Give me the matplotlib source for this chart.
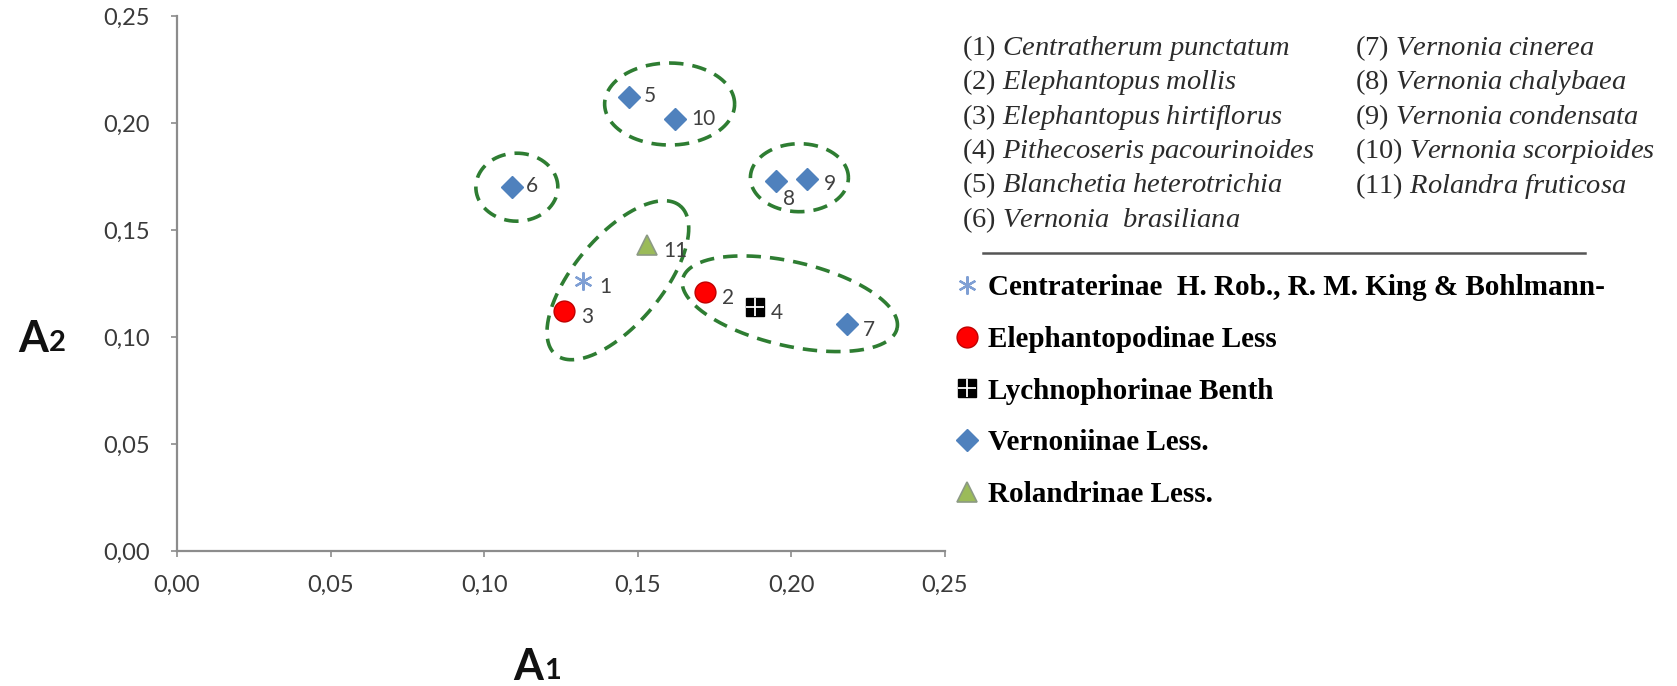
import matplotlib.pyplot as plt
from matplotlib.lines import Line2D
from matplotlib.legend_handler import HandlerTuple
from matplotlib.font_manager import FontProperties
from matplotlib.ticker import FuncFormatter
import numpy as np

plt.rcParams['mathtext.fontset'] = 'custom'
plt.rcParams['mathtext.rm'] = 'Liberation Serif'
plt.rcParams['mathtext.it'] = 'Liberation Serif:italic'

# species coordinates (A1, A2)
point_ids = [1, 2, 3, 4, 5, 6, 7, 8, 9, 10, 11]
a1 = [0.132, 0.172, 0.126, 0.188, 0.147, 0.109, 0.218, 0.195, 0.205, 0.162, 0.153]
a2 = [0.126, 0.121, 0.112, 0.114, 0.212, 0.170, 0.106, 0.173, 0.174, 0.202, 0.143]
subtribe = ['Centraterinae', 'Elephantopodinae', 'Elephantopodinae', 'Lychnophorinae',
            'Vernoniinae', 'Vernoniinae', 'Vernoniinae', 'Vernoniinae', 'Vernoniinae',
            'Vernoniinae', 'Rolandrinae']

species = ['Centratherum punctatum', 'Elephantopus mollis', 'Elephantopus hirtiflorus',
           'Pithecoseris pacourinoides', 'Blanchetia heterotrichia', 'Vernonia  brasiliana',
           'Vernonia cinerea', 'Vernonia chalybaea', 'Vernonia condensata',
           'Vernonia scorpioides', 'Rolandra fruticosa']

subtribes = ['Centraterinae', 'Elephantopodinae', 'Lychnophorinae', 'Vernoniinae', 'Rolandrinae']
subtribe_labels = ['Centraterinae  H. Rob., R. M. King & Bohlmann-', 'Elephantopodinae Less',
                   'Lychnophorinae Benth', 'Vernoniinae Less.', 'Rolandrinae Less.']

# clusters circled with dashed rings
clusters = [[5, 10], [6], [8, 9], [1, 3, 11], [2, 4, 7]]

xticks = [0.00, 0.05, 0.10, 0.15, 0.20, 0.25]
yticks = [0.00, 0.05, 0.10, 0.15, 0.20, 0.25]

# marker styles per subtribe
styles = {
    'Centraterinae': dict(marker=(6, 2, 0), ms=13, mfc='none', mec='#7f9fd4', mew=1.6),
    'Elephantopodinae': dict(marker='o', ms=15, mfc='#ff0000', mec='#c00000', mew=1.0),
    'Lychnophorinae': dict(marker='s', ms=13, mfc='#000000', mec='#000000', mew=1.0),
    'Vernoniinae': dict(marker='D', ms=11, mfc='#4f81bd', mec='#4f81bd', mew=1.0),
    'Rolandrinae': dict(marker='^', ms=14, mfc='#9bbb59', mec='#8c9a84', mew=1.2),
}
cross = dict(marker='+', ms=13, mec='white', mew=1.3)
# label offsets in points (dx, dy)
label_off = {8: (5, -13), 6: (10, 1), 5: (11, 1), 10: (12, 0)}
# ring shape: shift of centre from cluster mean in px, semi axes in px, angle in degrees
rings = [((18, 4), 65, 41, 0), ((5, 0), 41, 34, 0), ((8, 2), 49, 34, 0),
         ((20, -1), 97, 44, 50), ((21, 4), 110, 42, -13)]

W, H = 1677, 686
fig = plt.figure(figsize=(W / 100, H / 100), dpi=100)
ax = fig.add_axes([177 / W, 1 - 551 / H, 768 / W, 535 / H])
ax.set_xlim(0, 0.25)
ax.set_ylim(0, 0.25)

for st in subtribes:
    xs = [x for x, s in zip(a1, subtribe) if s == st]
    ys = [y for y, s in zip(a2, subtribe) if s == st]
    ax.plot(xs, ys, linestyle='none', zorder=3, **styles[st])
    if st == 'Lychnophorinae':
        ax.plot(xs, ys, linestyle='none', zorder=4, **cross)

for pid, x, y in zip(point_ids, a1, a2):
    dx, dy = label_off.get(pid, (12, -4))
    ax.annotate(str(pid), (x, y), xytext=(dx, dy), textcoords='offset points',
                ha='left', va='center', fontsize=15, family='Lato', color='#404040')

# dashed rings around clusters
sx = ax.get_position().width * W / 0.25
sy = ax.get_position().height * H / 0.25
t = np.linspace(0, 2 * np.pi, 300)
for members, (shift, ra, rb, ang) in zip(clusters, rings):
    cx = np.mean([a1[point_ids.index(m)] for m in members]) + shift[0] / sx
    cy = np.mean([a2[point_ids.index(m)] for m in members]) + shift[1] / sy
    th = np.radians(ang)
    px = ra * np.cos(t) * np.cos(th) - rb * np.sin(t) * np.sin(th)
    py = ra * np.cos(t) * np.sin(th) + rb * np.sin(t) * np.cos(th)
    ax.plot(cx + px / sx, cy + py / sy, color='#2e7d32', lw=2.6,
            dashes=(4, 2.5), zorder=2)

# axes styling
for side in ['top', 'right']:
    ax.spines[side].set_visible(False)
for side in ['left', 'bottom']:
    ax.spines[side].set_color('#8c8c8c')
    ax.spines[side].set_linewidth(1.6)
ax.set_xticks(xticks)
ax.set_yticks(yticks)
fmt = FuncFormatter(lambda v, _: f'{v:.2f}'.replace('.', ','))
ax.xaxis.set_major_formatter(fmt)
ax.yaxis.set_major_formatter(fmt)
ax.tick_params(axis='both', direction='out', length=4.5, width=1.2, color='#8c8c8c',
               labelsize=17, labelcolor='#3a3a3a')
ax.tick_params(axis='y', pad=15)
ax.tick_params(axis='x', pad=13)
for lab in ax.get_xticklabels() + ax.get_yticklabels():
    lab.set_family('Lato')

# axis titles A1 / A2
ta = fig.text(513 / W, 1 - 680 / H, 'A', fontsize=31, weight='bold', family='Lato',
              va='baseline', color='#111111')
ax.annotate('1', xy=(1, 0), xycoords=ta, xytext=(1, 2), textcoords='offset points',
            fontsize=21, weight='bold', family='Lato', color='#111111', va='bottom',
            annotation_clip=False)
tb = fig.text(18 / W, 1 - 352 / H, 'A', fontsize=31, weight='bold', family='Lato',
              va='baseline', color='#111111')
ax.annotate('2', xy=(1, 0), xycoords=tb, xytext=(1, 2), textcoords='offset points',
            fontsize=21, weight='bold', family='Lato', color='#111111', va='bottom',
            annotation_clip=False)

# species list
def species_label(num, name):
    return f'({num}) ' + r'$\mathit{' + r'\ '.join(name.split(' ')) + '}$'

for i, (pid, name) in enumerate(zip(point_ids, species)):
    col = 0 if i < 6 else 1
    row = i if i < 6 else i - 6
    xpos = (962 if col == 0 else 1355) / W
    ypos = 1 - (48 + row * 34.4) / H
    fig.text(xpos, ypos, species_label(pid, name), fontsize=20.5, va='center',
             family='Liberation Serif', color='#2b2b2b')

fig.add_artist(Line2D([983 / W, 1585 / W], [1 - 253 / H, 1 - 253 / H],
                      transform=fig.transFigure, color='#555555', lw=1.8))

# subtribe legend
handles = []
for st in subtribes:
    h = Line2D([], [], linestyle='none', **styles[st])
    if st == 'Lychnophorinae':
        h = (h, Line2D([], [], linestyle='none', **cross))
    handles.append(h)
ax.legend(handles, subtribe_labels, loc='upper left', bbox_to_anchor=(955 / W, 1 - 274 / H),
          bbox_transform=fig.transFigure, frameon=False,
          prop=FontProperties(family='Liberation Serif', weight='bold', size=21),
          handlelength=0.8, handletextpad=0.33, labelspacing=0.85, borderpad=0,
          borderaxespad=0, handler_map={tuple: HandlerTuple(ndivide=1)})

fig.savefig('out.png', dpi=100)
